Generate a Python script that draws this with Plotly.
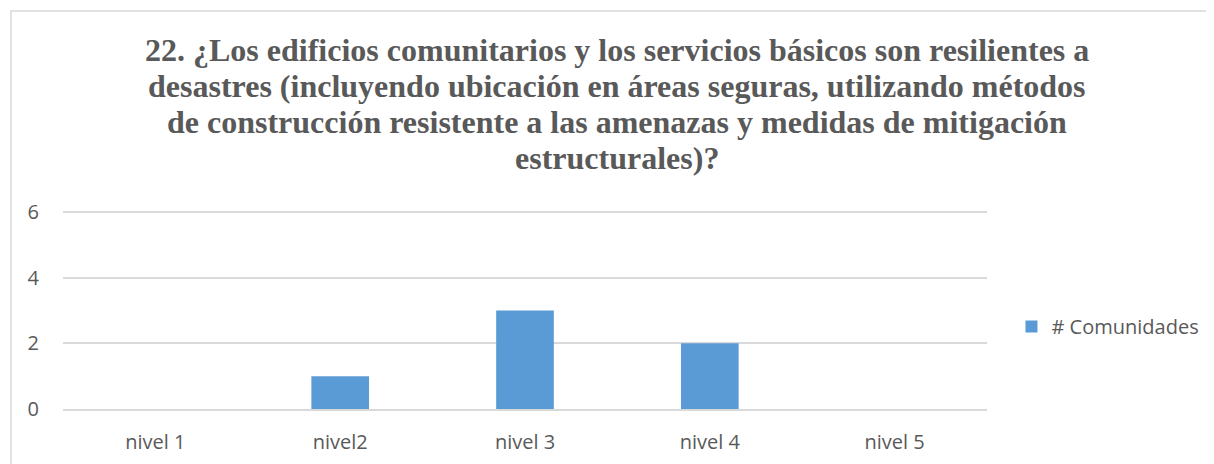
import plotly.graph_objects as go

categories = ["nivel 1", "nivel2", "nivel 3", "nivel 4", "nivel 5"]
comunidades = [0, 1, 3, 2, 0]
y_ticks = [0, 2, 4, 6]

title_lines = [
    "22. ¿Los edificios comunitarios y los servicios básicos son resilientes a",
    "desastres (incluyendo ubicación en áreas seguras, utilizando métodos",
    "de construcción resistente a las amenazas y medidas de mitigación",
    "estructurales)?",
]

TEXT_GREY = "#595959"
GRID_GREY = "#d9d9d9"
BAR_BLUE = "#5b9bd5"

fig = go.Figure()

fig.add_trace(
    go.Bar(
        x=categories,
        y=comunidades,
        name="# Comunidades",
        marker=dict(color=BAR_BLUE, line=dict(width=0)),
    )
)

# outer chart border (left and top edges show in the crop)
fig.add_shape(
    type="rect",
    xref="paper",
    yref="paper",
    x0=-0.0563,
    x1=1.26,
    y0=-0.5,
    y1=2.0,
    line=dict(color=GRID_GREY, width=1.5),
    layer="below",
)

# title drawn line by line to get the tighter line spacing of the original
title_y = [1.804, 1.623, 1.442, 1.261]
for line, ypos in zip(title_lines, title_y):
    fig.add_annotation(
        text=line,
        xref="paper",
        yref="paper",
        x=0.600,
        y=ypos,
        xanchor="center",
        yanchor="middle",
        showarrow=False,
        font=dict(family="Liberation Serif", size=32, color=TEXT_GREY, weight="bold"),
    )

fig.update_layout(
    width=1214,
    height=464,
    margin=dict(l=55, r=235, t=202, b=63),
    paper_bgcolor="white",
    plot_bgcolor="white",
    bargap=0.688,
    font=dict(family="Open Sans", size=20, color=TEXT_GREY),
    showlegend=True,
    legend=dict(
        x=1.0265,
        y=0.414,
        xanchor="left",
        yanchor="middle",
        font=dict(size=20, color=TEXT_GREY),
        itemwidth=30,
    ),
    xaxis=dict(
        showgrid=False,
        showline=True,
        linecolor=GRID_GREY,
        linewidth=1.5,
        ticks="",
        ticklabelstandoff=14,
        tickfont=dict(size=20, color=TEXT_GREY),
    ),
    yaxis=dict(
        range=[0, 6.06],
        tickvals=y_ticks,
        showgrid=True,
        gridcolor=GRID_GREY,
        gridwidth=1.5,
        zeroline=False,
        showline=False,
        ticklabelstandoff=23,
        tickfont=dict(size=20, color=TEXT_GREY),
    ),
)

fig.write_html("out.html")
